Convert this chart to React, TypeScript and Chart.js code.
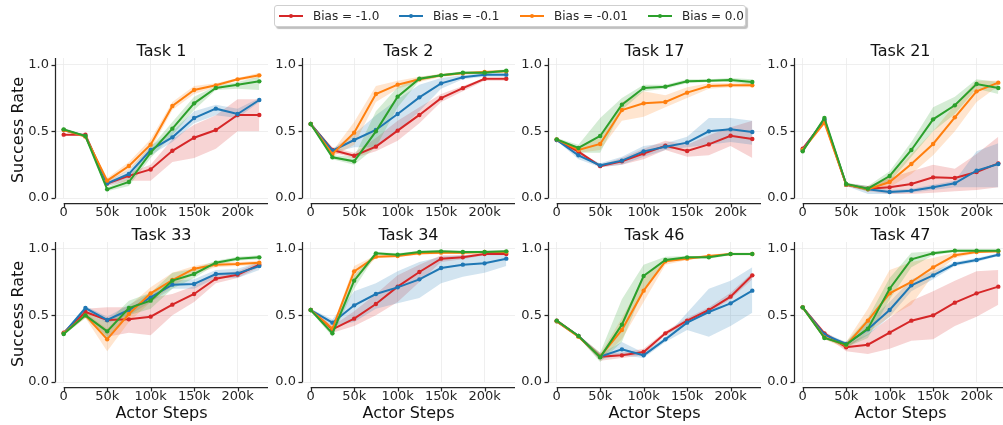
import React, { useEffect, useRef } from "react";
import { Chart, registerables } from "chart.js";

Chart.register(...registerables);

// ---------- shared axis data ----------
const X_STEPS = [0, 25000, 50000, 75000, 100000, 125000, 150000, 175000, 200000, 225000];
const X_TICKS = [0, 50000, 100000, 150000, 200000];
const X_TICK_LABELS = ["0", "50k", "100k", "150k", "200k"];
const Y_TICKS = [0, 0.5, 1.0];
const Y_TICK_LABELS = ["0.0", "0.5", "1.0"];
const SERIES_LABELS = ["Bias = -1.0", "Bias = -0.1", "Bias = -0.01", "Bias = 0.0"];
const SERIES_COLORS = ["#d62728", "#1f77b4", "#ff7f0e", "#2ca02c"];
const BAND_COLORS = [
  "rgba(214,39,40,0.2)",
  "rgba(31,119,180,0.2)",
  "rgba(255,127,14,0.2)",
  "rgba(44,160,44,0.2)",
];
const TASK_NAMES = ["Task 1", "Task 2", "Task 17", "Task 21", "Task 33", "Task 34", "Task 46", "Task 47"];

// ---------- per-task values: rows = [Bias -1.0, -0.1, -0.01, 0.0] ----------
const T1_MEAN = [
  [0.475, 0.475, 0.108, 0.166, 0.214, 0.354, 0.452, 0.51, 0.623, 0.623],
  [0.51, 0.465, 0.11, 0.18, 0.36, 0.455, 0.6, 0.67, 0.63, 0.735],
  [0.51, 0.46, 0.13, 0.24, 0.4, 0.69, 0.81, 0.845, 0.89, 0.92],
  [0.515, 0.465, 0.065, 0.12, 0.34, 0.52, 0.71, 0.825, 0.85, 0.875],
];
const T1_LO = [
  [0.47, 0.47, 0.09, 0.13, 0.13, 0.27, 0.3, 0.37, 0.5, 0.5],
  [0.5, 0.455, 0.09, 0.15, 0.32, 0.42, 0.56, 0.62, 0.6, 0.72],
  [0.5, 0.45, 0.11, 0.21, 0.36, 0.66, 0.78, 0.83, 0.88, 0.9],
  [0.505, 0.455, 0.05, 0.09, 0.3, 0.47, 0.66, 0.81, 0.82, 0.81],
];
const T1_HI = [
  [0.48, 0.48, 0.12, 0.19, 0.25, 0.44, 0.55, 0.62, 0.74, 0.74],
  [0.52, 0.475, 0.13, 0.21, 0.39, 0.5, 0.65, 0.7, 0.67, 0.75],
  [0.52, 0.47, 0.15, 0.27, 0.44, 0.72, 0.84, 0.86, 0.9, 0.94],
  [0.525, 0.475, 0.08, 0.15, 0.38, 0.57, 0.76, 0.84, 0.87, 0.91],
];

const T2_MEAN = [
  [0.555, 0.36, 0.317, 0.385, 0.505, 0.623, 0.749, 0.824, 0.894, 0.894],
  [0.555, 0.355, 0.435, 0.51, 0.63, 0.755, 0.86, 0.905, 0.925, 0.925],
  [0.555, 0.33, 0.49, 0.78, 0.85, 0.89, 0.92, 0.935, 0.945, 0.95],
  [0.555, 0.305, 0.275, 0.5, 0.76, 0.895, 0.92, 0.94, 0.94, 0.955],
];
const T2_LO = [
  [0.55, 0.34, 0.3, 0.35, 0.43, 0.56, 0.72, 0.8, 0.88, 0.88],
  [0.55, 0.34, 0.38, 0.38, 0.5, 0.65, 0.82, 0.89, 0.91, 0.91],
  [0.55, 0.31, 0.4, 0.72, 0.82, 0.87, 0.91, 0.925, 0.935, 0.94],
  [0.55, 0.29, 0.25, 0.38, 0.68, 0.88, 0.91, 0.93, 0.93, 0.945],
];
const T2_HI = [
  [0.56, 0.38, 0.34, 0.45, 0.58, 0.68, 0.78, 0.84, 0.9, 0.9],
  [0.56, 0.37, 0.48, 0.62, 0.74, 0.85, 0.9, 0.92, 0.94, 0.94],
  [0.56, 0.35, 0.57, 0.84, 0.88, 0.91, 0.93, 0.945, 0.955, 0.96],
  [0.56, 0.32, 0.31, 0.65, 0.83, 0.91, 0.93, 0.95, 0.95, 0.965],
];

const T17_MEAN = [
  [0.435, 0.347, 0.239, 0.276, 0.334, 0.392, 0.352, 0.402, 0.467, 0.442],
  [0.435, 0.32, 0.245, 0.28, 0.35, 0.385, 0.415, 0.5, 0.515, 0.495],
  [0.44, 0.36, 0.405, 0.66, 0.71, 0.72, 0.79, 0.84, 0.845, 0.845],
  [0.44, 0.375, 0.465, 0.7, 0.825, 0.835, 0.875, 0.88, 0.885, 0.87],
];
const T17_LO = [
  [0.43, 0.33, 0.23, 0.25, 0.29, 0.36, 0.31, 0.32, 0.39, 0.3],
  [0.43, 0.29, 0.23, 0.25, 0.31, 0.36, 0.38, 0.4, 0.42, 0.4],
  [0.43, 0.34, 0.36, 0.58, 0.61, 0.68, 0.75, 0.82, 0.83, 0.83],
  [0.43, 0.34, 0.34, 0.66, 0.8, 0.82, 0.86, 0.87, 0.87, 0.85],
];
const T17_HI = [
  [0.44, 0.36, 0.25, 0.3, 0.37, 0.43, 0.4, 0.47, 0.53, 0.58],
  [0.44, 0.34, 0.26, 0.31, 0.39, 0.41, 0.46, 0.6, 0.6, 0.58],
  [0.45, 0.38, 0.45, 0.72, 0.8, 0.77, 0.83, 0.86, 0.86, 0.86],
  [0.45, 0.4, 0.6, 0.75, 0.85, 0.85, 0.89, 0.89, 0.9, 0.89],
];

const T21_MEAN = [
  [0.37, 0.58, 0.1, 0.07, 0.08, 0.105, 0.155, 0.15, 0.195, 0.26],
  [0.36, 0.59, 0.1, 0.065, 0.045, 0.055, 0.08, 0.11, 0.205, 0.255],
  [0.36, 0.565, 0.1, 0.065, 0.12, 0.255, 0.405, 0.605, 0.8, 0.865],
  [0.35, 0.6, 0.105, 0.07, 0.165, 0.36, 0.59, 0.695, 0.855, 0.825],
];
const T21_LO = [
  [0.36, 0.57, 0.09, 0.05, 0.03, 0.03, 0.04, 0.05, 0.06, 0.08],
  [0.35, 0.58, 0.09, 0.03, 0.03, 0.04, 0.06, 0.08, 0.08, 0.08],
  [0.35, 0.555, 0.09, 0.05, 0.08, 0.18, 0.32, 0.5, 0.72, 0.84],
  [0.34, 0.59, 0.095, 0.05, 0.12, 0.31, 0.5, 0.63, 0.82, 0.78],
];
const T21_HI = [
  [0.38, 0.59, 0.11, 0.09, 0.15, 0.2, 0.25, 0.22, 0.33, 0.46],
  [0.37, 0.6, 0.11, 0.09, 0.06, 0.07, 0.1, 0.13, 0.35, 0.41],
  [0.37, 0.575, 0.11, 0.08, 0.16, 0.33, 0.5, 0.7, 0.88, 0.88],
  [0.36, 0.61, 0.115, 0.09, 0.2, 0.42, 0.68, 0.76, 0.89, 0.87],
];

const T33_MEAN = [
  [0.37, 0.525, 0.465, 0.47, 0.49, 0.58, 0.66, 0.775, 0.805, 0.88],
  [0.365, 0.555, 0.465, 0.54, 0.635, 0.73, 0.735, 0.81, 0.815, 0.87],
  [0.365, 0.5, 0.32, 0.51, 0.665, 0.765, 0.85, 0.88, 0.885, 0.895],
  [0.36, 0.5, 0.38, 0.555, 0.61, 0.76, 0.81, 0.895, 0.925, 0.935],
];
const T33_LO = [
  [0.36, 0.5, 0.34, 0.37, 0.35, 0.5, 0.6, 0.74, 0.78, 0.86],
  [0.355, 0.54, 0.44, 0.5, 0.6, 0.7, 0.7, 0.78, 0.78, 0.84],
  [0.355, 0.48, 0.23, 0.45, 0.6, 0.72, 0.81, 0.86, 0.87, 0.88],
  [0.35, 0.48, 0.32, 0.5, 0.55, 0.7, 0.78, 0.88, 0.91, 0.92],
];
const T33_HI = [
  [0.38, 0.55, 0.56, 0.56, 0.63, 0.66, 0.72, 0.81, 0.83, 0.9],
  [0.375, 0.57, 0.49, 0.58, 0.67, 0.76, 0.77, 0.84, 0.85, 0.9],
  [0.375, 0.52, 0.4, 0.57, 0.71, 0.82, 0.87, 0.9, 0.9, 0.91],
  [0.37, 0.52, 0.45, 0.61, 0.67, 0.82, 0.85, 0.91, 0.94, 0.95],
];

const T34_MEAN = [
  [0.54, 0.395, 0.475, 0.585, 0.715, 0.825, 0.925, 0.935, 0.96, 0.96],
  [0.54, 0.445, 0.575, 0.66, 0.71, 0.77, 0.855, 0.88, 0.89, 0.925],
  [0.54, 0.4, 0.83, 0.94, 0.945, 0.965, 0.97, 0.97, 0.975, 0.975],
  [0.54, 0.365, 0.76, 0.965, 0.955, 0.975, 0.98, 0.975, 0.975, 0.98],
];
const T34_LO = [
  [0.53, 0.37, 0.42, 0.5, 0.6, 0.75, 0.9, 0.92, 0.95, 0.95],
  [0.53, 0.42, 0.45, 0.55, 0.59, 0.63, 0.74, 0.79, 0.82, 0.87],
  [0.53, 0.38, 0.76, 0.93, 0.935, 0.955, 0.96, 0.96, 0.965, 0.965],
  [0.53, 0.34, 0.7, 0.955, 0.945, 0.965, 0.97, 0.965, 0.965, 0.97],
];
const T34_HI = [
  [0.55, 0.42, 0.53, 0.66, 0.8, 0.88, 0.95, 0.95, 0.97, 0.97],
  [0.55, 0.47, 0.68, 0.74, 0.83, 0.9, 0.94, 0.95, 0.96, 0.98],
  [0.55, 0.42, 0.87, 0.95, 0.955, 0.975, 0.98, 0.98, 0.985, 0.985],
  [0.55, 0.39, 0.8, 0.975, 0.965, 0.985, 0.99, 0.985, 0.985, 0.99],
];

const T46_MEAN = [
  [0.46, 0.345, 0.19, 0.2, 0.225, 0.365, 0.46, 0.54, 0.64, 0.8],
  [0.455, 0.345, 0.19, 0.245, 0.2, 0.32, 0.445, 0.525, 0.59, 0.685],
  [0.455, 0.34, 0.19, 0.39, 0.685, 0.905, 0.925, 0.945, 0.96, 0.96],
  [0.46, 0.345, 0.185, 0.43, 0.795, 0.915, 0.935, 0.935, 0.96, 0.96],
];
const T46_LO = [
  [0.45, 0.335, 0.16, 0.18, 0.2, 0.35, 0.44, 0.52, 0.62, 0.77],
  [0.445, 0.335, 0.17, 0.2, 0.18, 0.3, 0.39, 0.34, 0.42, 0.52],
  [0.445, 0.33, 0.17, 0.32, 0.6, 0.88, 0.915, 0.935, 0.95, 0.95],
  [0.45, 0.335, 0.15, 0.3, 0.7, 0.9, 0.925, 0.925, 0.95, 0.95],
];
const T46_HI = [
  [0.47, 0.355, 0.22, 0.22, 0.25, 0.38, 0.48, 0.56, 0.67, 0.82],
  [0.465, 0.355, 0.21, 0.3, 0.22, 0.34, 0.52, 0.7, 0.76, 0.86],
  [0.465, 0.35, 0.21, 0.48, 0.78, 0.92, 0.935, 0.955, 0.97, 0.97],
  [0.47, 0.355, 0.22, 0.62, 0.88, 0.94, 0.945, 0.945, 0.97, 0.97],
];

const T47_MEAN = [
  [0.56, 0.365, 0.26, 0.28, 0.37, 0.46, 0.5, 0.595, 0.665, 0.715],
  [0.56, 0.355, 0.285, 0.395, 0.54, 0.725, 0.8, 0.885, 0.915, 0.955],
  [0.56, 0.335, 0.275, 0.46, 0.665, 0.75, 0.86, 0.95, 0.975, 0.98],
  [0.56, 0.33, 0.28, 0.4, 0.7, 0.92, 0.965, 0.985, 0.985, 0.985],
];
const T47_LO = [
  [0.55, 0.35, 0.23, 0.21, 0.25, 0.31, 0.32, 0.42, 0.49, 0.58],
  [0.55, 0.34, 0.26, 0.35, 0.49, 0.68, 0.77, 0.87, 0.9, 0.945],
  [0.55, 0.32, 0.25, 0.37, 0.49, 0.58, 0.8, 0.93, 0.965, 0.97],
  [0.55, 0.32, 0.26, 0.33, 0.62, 0.86, 0.95, 0.975, 0.975, 0.975],
];
const T47_HI = [
  [0.57, 0.38, 0.28, 0.36, 0.48, 0.61, 0.68, 0.76, 0.83, 0.84],
  [0.57, 0.37, 0.3, 0.45, 0.6, 0.77, 0.83, 0.9, 0.93, 0.965],
  [0.57, 0.35, 0.3, 0.55, 0.84, 0.9, 0.93, 0.97, 0.985, 0.99],
  [0.57, 0.34, 0.3, 0.48, 0.78, 0.97, 0.98, 0.995, 0.995, 0.995],
];

const TASK_MEANS = [T1_MEAN, T2_MEAN, T17_MEAN, T21_MEAN, T33_MEAN, T34_MEAN, T46_MEAN, T47_MEAN];
const TASK_LOS = [T1_LO, T2_LO, T17_LO, T21_LO, T33_LO, T34_LO, T46_LO, T47_LO];
const TASK_HIS = [T1_HI, T2_HI, T17_HI, T21_HI, T33_HI, T34_HI, T46_HI, T47_HI];

// ---------- layout ----------
const FONT = '"DejaVu Sans", "Liberation Sans", sans-serif';
const INK = "#262626";
const AREA_LEFT = [55, 302, 548, 794]; // page x of plot area left (y spine)
const AREA_TOP = [58, 242]; // page y of plot area top
const AREA_W = 213;
const AREA_H = 140;
const PAD_L = 55;
const PAD_T = 30;
const PAD_R = 6;
const PAD_B = 34;

function mplAxesPlugin(title: string) {
  return {
    id: "mplAxes",
    afterDraw(chart: any) {
      const { ctx, chartArea } = chart;
      const { left, top, right, bottom } = chartArea;
      const xs = chart.scales.x;
      const ys = chart.scales.y;
      ctx.save();
      ctx.strokeStyle = INK;
      ctx.lineWidth = 1.25;
      const sx = Math.round(left) + 0.5;
      const y0 = ys.getPixelForValue(0);
      ctx.beginPath();
      ctx.moveTo(sx, top);
      ctx.lineTo(sx, y0);
      ctx.stroke();
      for (const v of Y_TICKS) {
        const y = Math.round(ys.getPixelForValue(v)) + 0.5;
        ctx.beginPath();
        ctx.moveTo(sx - 4, y);
        ctx.lineTo(sx, y);
        ctx.stroke();
      }
      const by = Math.round(bottom + 5) + 0.5;
      ctx.beginPath();
      ctx.moveTo(xs.getPixelForValue(0), by);
      ctx.lineTo(right, by);
      ctx.stroke();
      for (const v of X_TICKS) {
        const x = Math.round(xs.getPixelForValue(v)) + 0.5;
        ctx.beginPath();
        ctx.moveTo(x, by);
        ctx.lineTo(x, by + 4);
        ctx.stroke();
      }
      ctx.fillStyle = "#111";
      ctx.font = `16px ${FONT}`;
      ctx.textAlign = "center";
      ctx.textBaseline = "alphabetic";
      ctx.fillText(title, (left + right) / 2, top - 2);
      ctx.restore();
    },
  };
}

function Panel({ index }: { index: number }) {
  const ref = useRef<HTMLCanvasElement>(null);
  const col = index % 4;
  const row = Math.floor(index / 4);
  const width = PAD_L + AREA_W + PAD_R;
  const height = PAD_T + AREA_H + PAD_B;

  useEffect(() => {
    const mean = TASK_MEANS[index];
    const lo = TASK_LOS[index];
    const hi = TASK_HIS[index];
    const datasets: any[] = [];
    for (let s = 0; s < 4; s++) {
      datasets.push({
        label: SERIES_LABELS[s] + " lo",
        data: X_STEPS.map((x, i) => ({ x, y: lo[s][i] })),
        borderWidth: 0,
        borderColor: "rgba(0,0,0,0)",
        pointRadius: 0,
        fill: false,
        order: 10 - s,
      });
      datasets.push({
        label: SERIES_LABELS[s] + " hi",
        data: X_STEPS.map((x, i) => ({ x, y: hi[s][i] })),
        borderWidth: 0,
        borderColor: "rgba(0,0,0,0)",
        backgroundColor: BAND_COLORS[s],
        pointRadius: 0,
        fill: "-1",
        order: 10 - s,
      });
    }
    for (let s = 0; s < 4; s++) {
      datasets.push({
        label: SERIES_LABELS[s],
        data: X_STEPS.map((x, i) => ({ x, y: mean[s][i] })),
        borderColor: SERIES_COLORS[s],
        backgroundColor: SERIES_COLORS[s],
        pointBackgroundColor: SERIES_COLORS[s],
        pointBorderWidth: 0,
        pointRadius: 2.2,
        borderWidth: 2,
        tension: 0,
        fill: false,
        order: 3 - s,
        clip: 6,
      });
    }
    const chart = new Chart(ref.current as HTMLCanvasElement, {
      type: "line",
      data: { datasets },
      options: {
        animation: false,
        responsive: false,
        devicePixelRatio: 1,
        events: [],
        layout: { padding: { left: 0, top: PAD_T, right: PAD_R, bottom: 0 } },
        plugins: {
          legend: { display: false },
          tooltip: { enabled: false },
          title: { display: false },
        },
        scales: {
          x: {
            type: "linear",
            min: -10000,
            max: 235000,
            afterBuildTicks: (s: any) => {
              s.ticks = X_TICKS.map((v) => ({ value: v }));
            },
            afterFit: (s: any) => {
              s.height = PAD_B;
            },
            grid: { color: "#ebebeb", lineWidth: 0.8, drawTicks: false },
            border: { display: false },
            ticks: {
              padding: 7,
              maxRotation: 0,
              autoSkip: false,
              color: INK,
              font: { family: FONT, size: 13 },
              callback: (v: any) => X_TICK_LABELS[X_TICKS.indexOf(Number(v))] ?? "",
            },
          },
          y: {
            type: "linear",
            min: 0,
            max: 1.05,
            afterBuildTicks: (s: any) => {
              s.ticks = Y_TICKS.map((v) => ({ value: v }));
            },
            afterFit: (s: any) => {
              s.width = PAD_L;
            },
            grid: { color: "#ebebeb", lineWidth: 0.8, drawTicks: false },
            border: { display: false },
            ticks: {
              padding: 6,
              color: INK,
              font: { family: FONT, size: 13 },
              callback: (v: any) => Y_TICK_LABELS[Y_TICKS.indexOf(Number(v))] ?? "",
            },
          },
        },
      } as any,
      plugins: [mplAxesPlugin(TASK_NAMES[index])],
    });
    return () => chart.destroy();
  }, [index]);

  return (
    <canvas
      ref={ref}
      width={width}
      height={height}
      style={{
        position: "absolute",
        left: AREA_LEFT[col] - PAD_L,
        top: AREA_TOP[row] - PAD_T,
        width,
        height,
      }}
    />
  );
}

const LEGEND_LINE_X = [4, 124, 245, 373];
const LEGEND_TEXT_X = [38, 158, 279, 407];

function Legend() {
  return (
    <div
      style={{
        position: "absolute",
        left: 274,
        top: 5,
        width: 472,
        height: 22,
        boxSizing: "border-box",
        border: "1px solid #cfcfcf",
        borderRadius: 3,
        background: "#fff",
        boxShadow: "2px 2px 1px rgba(0,0,0,0.25)",
        fontFamily: FONT,
        fontSize: 12,
        color: INK,
      }}
    >
      {SERIES_LABELS.map((lab, s) => (
        <React.Fragment key={lab}>
          <div
            style={{
              position: "absolute",
              left: LEGEND_LINE_X[s],
              top: 9,
              width: 24,
              height: 2,
              background: SERIES_COLORS[s],
            }}
          />
          <div
            style={{
              position: "absolute",
              left: LEGEND_LINE_X[s] + 10,
              top: 8,
              width: 4,
              height: 4,
              borderRadius: 2,
              background: SERIES_COLORS[s],
            }}
          />
          <div
            style={{
              position: "absolute",
              left: LEGEND_TEXT_X[s],
              top: 3,
              lineHeight: "14px",
              whiteSpace: "nowrap",
            }}
          >
            {lab}
          </div>
        </React.Fragment>
      ))}
    </div>
  );
}

export default function App() {
  return (
    <div
      style={{
        position: "absolute",
        left: 0,
        top: 0,
        width: 1003,
        height: 425,
        overflow: "hidden",
        background: "#fff",
        fontFamily: FONT,
      }}
    >
      {TASK_NAMES.map((_, i) => (
        <Panel key={i} index={i} />
      ))}
      {AREA_TOP.map((t, r) => (
        <div
          key={"yl" + r}
          style={{
            position: "absolute",
            left: 18,
            top: t + AREA_H / 2 + 2,
            transform: "translate(-50%, -50%) rotate(-90deg)",
            fontSize: 16,
            lineHeight: "16px",
            whiteSpace: "nowrap",
            color: "#111",
          }}
        >
          Success Rate
        </div>
      ))}
      {AREA_LEFT.map((l, c) => (
        <div
          key={"xl" + c}
          style={{
            position: "absolute",
            left: l + AREA_W / 2,
            top: 413,
            transform: "translate(-50%, -50%)",
            fontSize: 16,
            lineHeight: "16px",
            whiteSpace: "nowrap",
            color: "#111",
          }}
        >
          Actor Steps
        </div>
      ))}
      <Legend />
    </div>
  );
}
